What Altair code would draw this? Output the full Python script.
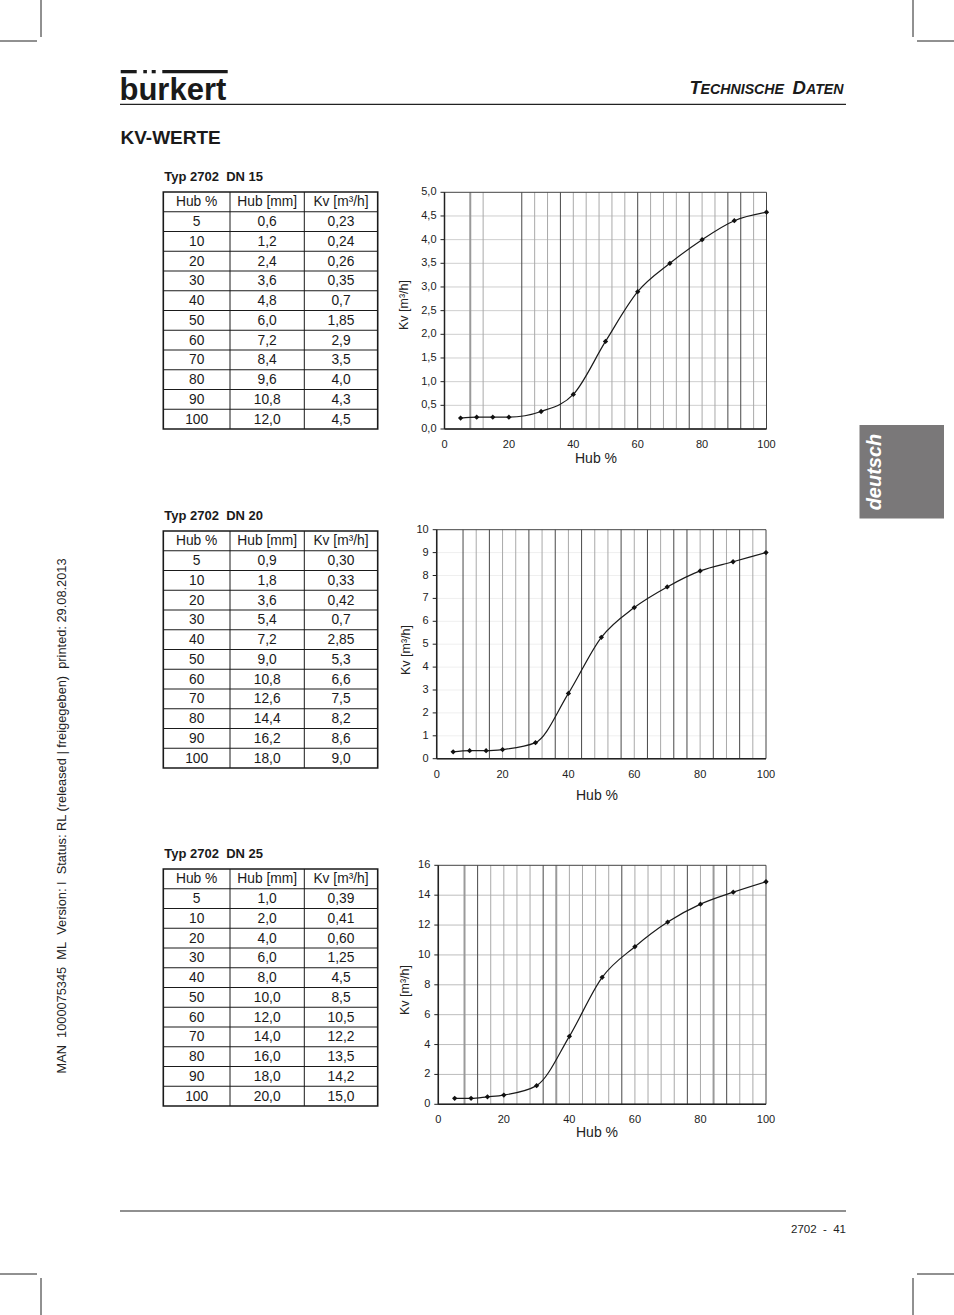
import altair as alt
import pandas as pd

W, H = 954, 1315
NB = "\u00a0"

# ---------------- data ----------------
table_header = ["Hub %", "Hub [mm]", "Kv [m³/h]"]
table_hub_pct = ["5", "10", "20", "30", "40", "50", "60", "70", "80", "90", "100"]
dn15_hub_mm = ["0,6", "1,2", "2,4", "3,6", "4,8", "6,0", "7,2", "8,4", "9,6", "10,8", "12,0"]
dn15_kv = ["0,23", "0,24", "0,26", "0,35", "0,7", "1,85", "2,9", "3,5", "4,0", "4,3", "4,5"]
dn20_hub_mm = ["0,9", "1,8", "3,6", "5,4", "7,2", "9,0", "10,8", "12,6", "14,4", "16,2", "18,0"]
dn20_kv = ["0,30", "0,33", "0,42", "0,7", "2,85", "5,3", "6,6", "7,5", "8,2", "8,6", "9,0"]
dn25_hub_mm = ["1,0", "2,0", "4,0", "6,0", "8,0", "10,0", "12,0", "14,0", "16,0", "18,0", "20,0"]
dn25_kv = ["0,39", "0,41", "0,60", "1,25", "4,5", "8,5", "10,5", "12,2", "13,5", "14,2", "15,0"]

curve_hub = [5, 10, 15, 20, 30, 40, 50, 60, 70, 80, 90, 100]
dn15_curve = [0.23, 0.25, 0.25, 0.25, 0.37, 0.73, 1.85, 2.9, 3.5, 4.0, 4.4, 4.58]
dn20_curve = [0.30, 0.35, 0.35, 0.40, 0.70, 2.85, 5.3, 6.6, 7.5, 8.2, 8.6, 9.0]
dn25_curve = [0.40, 0.40, 0.50, 0.62, 1.25, 4.55, 8.5, 10.55, 12.2, 13.4, 14.2, 14.9]

x_ticks = [0, 20, 40, 60, 80, 100]
x_tick_labels = ["0", "20", "40", "60", "80", "100"]
dn15_y_ticks = [0, 0.5, 1, 1.5, 2, 2.5, 3, 3.5, 4, 4.5, 5]
dn15_y_labels = ["0,0", "0,5", "1,0", "1,5", "2,0", "2,5", "3,0", "3,5", "4,0", "4,5", "5,0"]
dn20_y_ticks = [0, 1, 2, 3, 4, 5, 6, 7, 8, 9, 10]
dn20_y_labels = ["0", "1", "2", "3", "4", "5", "6", "7", "8", "9", "10"]
dn25_y_ticks = [0, 2, 4, 6, 8, 10, 12, 14, 16]
dn25_y_labels = ["0", "2", "4", "6", "8", "10", "12", "14", "16"]

# vertical grid lines (Hub %) as printed: light, medium, dark
dn15_vgrid_light = [12, 28, 32, 40, 44, 48, 52, 56, 64, 68, 72, 80, 84, 96]
dn15_vgrid_mid = [8]
dn15_vgrid_dark = [24, 36, 60, 76, 88, 92]
dn20_vgrid_light = [12, 20, 24, 32, 40, 48, 52, 60, 68, 80, 88, 96]
dn20_vgrid_mid = []
dn20_vgrid_dark = [8, 16, 28, 36, 44, 56, 64, 72, 76, 84, 92]
dn25_vgrid_light = [16, 20, 24, 28, 40, 44, 48, 52, 60, 64, 68, 72, 80, 92, 96]
dn25_vgrid_mid = [8, 36, 84]
dn25_vgrid_dark = [12, 32, 56, 76, 88]

table_titles = ["Typ 2702  DN 15", "Typ 2702  DN 20", "Typ 2702  DN 25"]
side_note = "MAN  1000075345  ML  Version: I  Status: RL (released | freigegeben)  printed: 29.08.2013"
page_number = "2702  -  41"

FONT = "Liberation Sans"
INK = "#1a1a1a"


def keep_spaces(s):
    return s.replace("  ", NB + NB)


# ---------------- helpers ----------------
def S(domain, rng):
    return alt.Scale(domain=domain, range=rng, zero=False, nice=False)


PXS = S([0, W], [0, W])
PYS = S([0, H], [0, H])


def rules(df, sx, sy, **mark):
    return alt.Chart(df).mark_rule(**mark).encode(
        x=alt.X("x:Q", scale=sx, axis=None), x2="x2:Q",
        y=alt.Y("y:Q", scale=sy, axis=None), y2="y2:Q")


def rects(df, sx, sy, **mark):
    return alt.Chart(df).mark_rect(**mark).encode(
        x=alt.X("x:Q", scale=sx, axis=None), x2="x2:Q",
        y=alt.Y("y:Q", scale=sy, axis=None), y2="y2:Q")


def texts(df, sx, sy, **mark):
    return alt.Chart(df).mark_text(**mark).encode(
        x=alt.X("x:Q", scale=sx, axis=None),
        y=alt.Y("y:Q", scale=sy, axis=None),
        text="t:N")


def hline_df(ys, x0, x1):
    return pd.DataFrame({"y": ys, "y2": ys, "x": [x0] * len(ys), "x2": [x1] * len(ys)})


def vline_df(xs, y0, y1):
    return pd.DataFrame({"x": xs, "x2": xs, "y": [y0] * len(xs), "y2": [y1] * len(xs)})


layers = []

# ---------------- page decoration ----------------
crop = pd.DataFrame({
    "x": [41, 0, 913, 917, 41, 0, 913, 917],
    "x2": [41, 37, 913, 954, 41, 37, 913, 954],
    "y": [0, 41, 0, 41, 1278, 1274, 1278, 1274],
    "y2": [37, 41, 37, 41, 1315, 1274, 1315, 1274],
})
layers.append(rules(crop, PXS, PYS, color="#222", strokeWidth=1))
head = pd.DataFrame({"x": [120, 120], "x2": [846, 846], "y": [104.3, 1211], "y2": [104.3, 1211]})
layers.append(rules(head, PXS, PYS, color="#222", strokeWidth=1.2))

logo_bar = pd.DataFrame({"x": [120.7, 143.3, 151.7, 162.3], "x2": [136.7, 146.9, 155.7, 227.7],
                         "y": [70, 70, 70, 70], "y2": [73.3, 73.3, 73.3, 73.3]})
layers.append(rects(logo_bar, PXS, PYS, color=INK))
layers.append(texts(pd.DataFrame({"x": [119.5], "y": [99.5], "t": ["burkert"]}), PXS, PYS,
                    font=FONT, fontSize=31, fontWeight="bold", align="left", baseline="alphabetic",
                    color=INK))

# header "TECHNISCHE DATEN" in small caps
big = pd.DataFrame({"x": [689.5, 792.5], "y": [93.5, 93.5], "t": ["T", "D"]})
small = pd.DataFrame({"x": [700.5, 806], "y": [93.5, 93.5], "t": ["ECHNISCHE", "ATEN"]})
layers.append(texts(big, PXS, PYS, font=FONT, fontSize=18.5, fontWeight="bold", fontStyle="italic",
                    align="left", baseline="alphabetic", color=INK))
layers.append(texts(small, PXS, PYS, font=FONT, fontSize=14.2, fontWeight="bold", fontStyle="italic",
                    align="left", baseline="alphabetic", color=INK))

layers.append(texts(pd.DataFrame({"x": [120.5], "y": [143.8], "t": ["KV-WERTE"]}), PXS, PYS,
                    font=FONT, fontSize=19, fontWeight="bold", align="left", baseline="alphabetic",
                    color=INK))

# side tab
layers.append(rects(pd.DataFrame({"x": [859.5], "x2": [944], "y": [425], "y2": [518.5]}), PXS, PYS,
                    color="#7a7879"))
layers.append(texts(pd.DataFrame({"x": [875], "y": [472], "t": ["deutsch"]}), PXS, PYS,
                    font=FONT, fontSize=20, fontWeight="bold", fontStyle="italic", angle=270,
                    align="center", baseline="middle", color="white"))

# left vertical note and page number
layers.append(texts(pd.DataFrame({"x": [62], "y": [816], "t": [keep_spaces(side_note)]}), PXS, PYS,
                    font=FONT, fontSize=12.8, angle=270, align="center", baseline="middle",
                    color="#222"))
layers.append(texts(pd.DataFrame({"x": [846], "y": [1233], "t": [keep_spaces(page_number)]}),
                    PXS, PYS, font=FONT, fontSize=11.5, align="right", baseline="alphabetic",
                    color="#222"))

# ---------------- tables ----------------
COL_EDGES = [163.3, 230, 304.3, 377.7]
ROW_H = 19.75
tables = [
    (table_titles[0], 192, dn15_hub_mm, dn15_kv),
    (table_titles[1], 531, dn20_hub_mm, dn20_kv),
    (table_titles[2], 869, dn25_hub_mm, dn25_kv),
]
XT = S([0, 1, 2, 3], COL_EDGES)
for title, top, mm, kv in tables:
    YT = S([0, 12], [top, top + 12 * ROW_H])
    layers.append(texts(pd.DataFrame({"x": [0], "y": [0], "t": [keep_spaces(title)]}), XT, YT,
                        font=FONT, fontSize=13, fontWeight="bold", align="left",
                        baseline="alphabetic", dy=-11.5, dx=1, color=INK))
    rows = [table_header] + [[a, b, c] for a, b, c in zip(table_hub_pct, mm, kv)]
    cells = []
    for r, row in enumerate(rows):
        for c, val in enumerate(row):
            cells.append({"x": c + 0.5, "y": r + 0.5, "t": val})
    layers.append(texts(pd.DataFrame(cells), XT, YT, font=FONT, fontSize=13.8, align="center",
                        baseline="middle", dy=0.5, color=INK))
    layers.append(rules(hline_df(list(range(1, 12)), 0, 3), XT, YT, color=INK, strokeWidth=1.2))
    layers.append(rules(vline_df([1, 2], 0, 12), XT, YT, color=INK, strokeWidth=1))
    layers.append(rects(pd.DataFrame({"x": [0], "x2": [3], "y": [0], "y2": [12]}), XT, YT,
                        fillOpacity=0, stroke=INK, strokeWidth=1.6))

# ---------------- plots ----------------
plots = [
    dict(x0=444.5, x1=766.5, ytop=192.3, ybot=429.0, ymax=5, y=dn15_curve,
         yt=dn15_y_ticks, yl=dn15_y_labels, hgrid=dn15_y_ticks[1:-1], hcolor="#cfcfcf",
         light=dn15_vgrid_light, mid=dn15_vgrid_mid, dark=dn15_vgrid_dark,
         hub=(596, 459), kv=(404, 305)),
    dict(x0=436.7, x1=766.0, ytop=529.7, ybot=758.7, ymax=10, y=dn20_curve,
         yt=dn20_y_ticks, yl=dn20_y_labels, hgrid=dn20_y_ticks[1:-1], hcolor="#efefef",
         light=dn20_vgrid_light, mid=dn20_vgrid_mid, dark=dn20_vgrid_dark,
         hub=(597, 796), kv=(406, 650)),
    dict(x0=438.3, x1=766.0, ytop=865.3, ybot=1104.3, ymax=16, y=dn25_curve,
         yt=dn25_y_ticks, yl=dn25_y_labels, hgrid=dn25_y_ticks[1:-1], hcolor="#bdbdbd",
         light=dn25_vgrid_light, mid=dn25_vgrid_mid, dark=dn25_vgrid_dark,
         hub=(597, 1133), kv=(405, 990)),
]

for p in plots:
    XS = S([0, 100], [p["x0"], p["x1"]])
    YS = S([0, p["ymax"]], [p["ybot"], p["ytop"]])
    ym = p["ymax"]
    layers.append(rules(hline_df(p["hgrid"], 0, 100), XS, YS, color=p["hcolor"], strokeWidth=1))
    layers.append(rules(vline_df(p["light"], 0, ym), XS, YS, color="#a9a9a9", strokeWidth=1))
    if p["mid"]:
        layers.append(rules(vline_df(p["mid"], 0, ym), XS, YS, color="#9a9a9a", strokeWidth=2))
    layers.append(rules(vline_df(p["dark"], 0, ym), XS, YS, color="#484848", strokeWidth=1))
    # frame
    layers.append(rects(pd.DataFrame({"x": [0], "x2": [100], "y": [0], "y2": [ym]}), XS, YS,
                        fillOpacity=0, stroke="#444", strokeWidth=1))
    # axis lines
    axes = pd.DataFrame({"x": [0, 0], "x2": [100, 0], "y": [0, 0], "y2": [0, ym]})
    layers.append(rules(axes, XS, YS, color="#222", strokeWidth=1.5))
    # y ticks
    yt = pd.DataFrame({"y": p["yt"], "y2": p["yt"], "x": [0] * len(p["yt"]), "x2": [0] * len(p["yt"])})
    layers.append(rules(yt, XS, YS, color="#222", strokeWidth=1, x2Offset=-4))
    # tick labels
    layers.append(texts(pd.DataFrame({"x": [0] * len(p["yt"]), "y": p["yt"], "t": p["yl"]}), XS, YS,
                        font=FONT, fontSize=11, align="right", baseline="middle", dx=-8,
                        color="#222"))
    layers.append(texts(pd.DataFrame({"x": x_ticks, "y": [0] * len(x_ticks), "t": x_tick_labels}),
                        XS, YS, font=FONT, fontSize=11, align="center", baseline="middle", dy=16,
                        color="#222"))
    # axis titles
    layers.append(texts(pd.DataFrame({"x": [p["hub"][0]], "y": [p["hub"][1]], "t": ["Hub %"]}),
                        PXS, PYS, font=FONT, fontSize=14, align="center", baseline="middle",
                        color="#222"))
    layers.append(texts(pd.DataFrame({"x": [p["kv"][0]], "y": [p["kv"][1]], "t": ["Kv [m³/h]"]}),
                        PXS, PYS, font=FONT, fontSize=12.5, angle=270, align="center",
                        baseline="middle", color="#222"))
    # curve + points
    cdf = pd.DataFrame({"hub": curve_hub, "kv": p["y"]})
    layers.append(alt.Chart(cdf).mark_line(interpolate="monotone", color="#1a1a1a", strokeWidth=1.2)
                  .encode(x=alt.X("hub:Q", scale=XS, axis=None), y=alt.Y("kv:Q", scale=YS, axis=None)))
    layers.append(alt.Chart(cdf).mark_point(shape="diamond", filled=True, size=28, color="#111",
                                            opacity=1)
                  .encode(x=alt.X("hub:Q", scale=XS, axis=None), y=alt.Y("kv:Q", scale=YS, axis=None)))

chart = alt.layer(*layers).resolve_scale(x="independent", y="independent").properties(
    width=W, height=H, padding=0, autosize=alt.AutoSizeParams(type="none"), background="white"
).configure_view(stroke=None)

chart.save("out.html", embed_options={"renderer": "svg", "actions": False})
